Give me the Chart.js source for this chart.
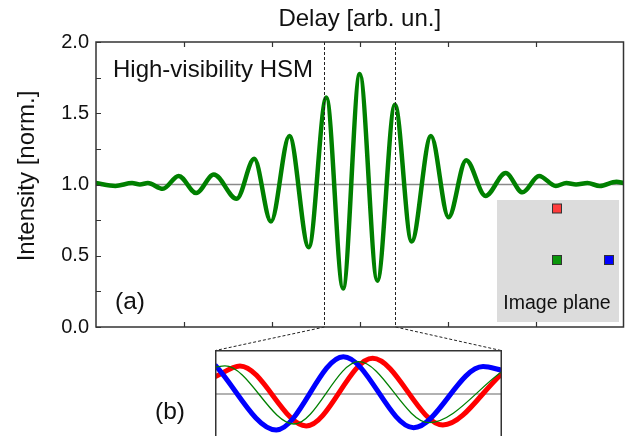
<!DOCTYPE html>
<html><head><meta charset="utf-8">
<script src="https://cdn.jsdelivr.net/npm/chart.js@4.4.0/dist/chart.umd.min.js"></script>
<style>
html,body{margin:0;padding:0;background:#fff;overflow:hidden;width:628px;height:436px;}
#wrap{position:relative;width:628px;height:436px;}
#main{position:absolute;left:0;top:0;}
#inset{position:absolute;}
</style></head><body>
<div id="wrap"><canvas id="main" width="628" height="436"></canvas><canvas id="inset"></canvas></div>
<script>
// ---------- data ----------
const delayX = [0.00,0.22,0.41,0.50,0.59,0.76,0.94,1.14,1.34,1.60,1.80,1.99,2.20,2.42,2.62,2.81,3.00,3.20,3.40,3.59,3.81,4.01,4.21,4.43,4.66,4.85,5.04,5.23,5.35,5.46,5.59,5.73,5.92,6.00];
const intensity = [1.01,0.99,1.01,1.00,1.01,0.97,1.06,0.94,1.07,0.90,1.18,0.74,1.34,0.56,1.61,0.27,1.775,0.325,1.56,0.60,1.34,0.77,1.17,0.92,1.08,0.945,1.06,0.99,1.01,1.00,1.01,0.99,1.02,1.01];
const refLevel = 1.0;
const xTickValues = [0,1,2,3,4,5,6];
const yTickValues = [0,0.25,0.5,0.75,1,1.25,1.5,1.75,2];
const zoomRange = [2.595, 3.40];

const redX   = [2.595,2.665,2.851,3.037,3.234,3.40];
const redY   = [0.52,0.85,-0.97,1.08,-0.94,0.62];
const blueX  = [2.595,2.767,2.955,3.152,3.347,3.40];
const blueY  = [0.88,-1.09,1.13,-1.02,0.83,0.72];
const greenX = [2.595,2.623,2.817,2.998,3.195,3.40];
const greenY = [0.81,0.85,-0.91,0.98,-0.87,0.68];

const titleText = 'Delay [arb. un.]';
const yTitleText = 'Intensity [norm.]';
const annotText = 'High-visibility HSM';
const panelA = '(a)', panelB = '(b)';
const planeText = 'Image plane';

// ---------- layout ----------
const FONT = "'Liberation Sans', Arial, Helvetica, sans-serif";
const INSET = {left:215, top:350, width:287, height:96};
Chart.defaults.font.family = FONT;
Chart.defaults.color = '#111';

const pts = (xs, ys) => xs.map((x,i)=>({x, y: ys[i]}));

const insetCanvas = document.getElementById('inset');
insetCanvas.width = INSET.width; insetCanvas.height = INSET.height;
insetCanvas.style.left = INSET.left + 'px'; insetCanvas.style.top = INSET.top + 'px';

const mainPlugin = {
  id: 'mainDeco',
  beforeDatasetsDraw(chart){
    const {ctx, chartArea:a, scales:{x,y}} = chart;
    ctx.save();
    // image-plane box
    const bx = a.right - 126.5, by = a.bottom - 127, bw = 122, bh = 122;
    ctx.fillStyle = '#dcdcdc';
    ctx.fillRect(bx, by, bw, bh);
    const sq = (cx, cy, col) => {
      ctx.fillStyle = col; ctx.fillRect(cx-4.5, cy-4.5, 9, 9);
      ctx.strokeStyle = '#333'; ctx.lineWidth = 1; ctx.strokeRect(cx-4.5, cy-4.5, 9, 9);
    };
    sq(bx+60, by+8.5, '#ff3c3c');
    sq(bx+60, by+60, '#0a960a');
    sq(bx+112, by+60, '#0000ff');
    ctx.fillStyle = '#111';
    ctx.font = '19.5px ' + FONT;
    ctx.textAlign = 'center'; ctx.textBaseline = 'alphabetic';
    ctx.fillText(planeText, bx + 60, by + 109);
    // reference line
    const yr = y.getPixelForValue(refLevel);
    ctx.strokeStyle = '#8a8a8a'; ctx.lineWidth = 1.5;
    ctx.beginPath(); ctx.moveTo(a.left, yr); ctx.lineTo(a.right, yr); ctx.stroke();
    ctx.restore();
  },
  afterDatasetsDraw(chart){
    const {ctx, chartArea:a, scales:{x,y}} = chart;
    ctx.save();
    // dashed zoom lines
    ctx.strokeStyle = '#222'; ctx.lineWidth = 1; ctx.setLineDash([3,2]);
    const corners = [INSET.left + 0.5, INSET.left + INSET.width - 1];
    zoomRange.forEach((v, i) => {
      const px = Math.round(x.getPixelForValue(v)) + 0.5;
      ctx.beginPath();
      ctx.moveTo(px, a.top); ctx.lineTo(px, a.bottom);
      ctx.lineTo(corners[i], INSET.top + 0.5);
      ctx.stroke();
    });
    ctx.setLineDash([]);
    // frame
    ctx.strokeStyle = '#333'; ctx.lineWidth = 1.5;
    ctx.strokeRect(a.left, a.top, a.right - a.left, a.bottom - a.top);
    // inward ticks
    ctx.lineWidth = 1.2;
    ctx.beginPath();
    xTickValues.slice(1,-1).forEach(v => {
      const px = Math.round(x.getPixelForValue(v)) + 0.5;
      ctx.moveTo(px, a.bottom); ctx.lineTo(px, a.bottom - 5);
      ctx.moveTo(px, a.top); ctx.lineTo(px, a.top + 5);
    });
    yTickValues.forEach(v => {
      const py = Math.round(y.getPixelForValue(v)) + 0.5;
      ctx.moveTo(a.left, py); ctx.lineTo(a.left + 5, py);
    });
    ctx.stroke();
    // annotations
    ctx.fillStyle = '#111';
    ctx.textAlign = 'left'; ctx.textBaseline = 'alphabetic';
    ctx.font = '24px ' + FONT;
    ctx.fillText(annotText, a.left + 17, a.top + 35);
    ctx.font = '24.5px ' + FONT;
    ctx.fillText(panelA, a.left + 19, a.bottom - 18);
    ctx.fillText(panelB, INSET.left - 60, INSET.top + 69);
    // y title
    ctx.font = '24px ' + FONT;
    ctx.textAlign = 'center'; ctx.textBaseline = 'middle';
    ctx.translate(27, 176); ctx.rotate(-Math.PI/2);
    ctx.fillText(yTitleText, 0, 0);
    ctx.restore();
  }
};

new Chart(document.getElementById('main'), {
  type: 'line',
  data: { datasets: [{
    data: pts(delayX, intensity),
    borderColor: 'rgb(0,128,0)', borderWidth: 4.5,
    borderJoinStyle: 'round', borderCapStyle: 'round',
    pointRadius: 0, cubicInterpolationMode: 'monotone', fill: false
  }]},
  options: {
    responsive: false, animation: false, devicePixelRatio: 1,
    layout: { padding: { left: 0, right: 4.5, top: 0, bottom: 109 } },
    plugins: {
      legend: { display: false }, tooltip: { enabled: false },
      title: { display: true, text: titleText, color: '#111', fullSize: false,
               font: { size: 24, weight: 'normal', family: FONT, lineHeight: 1.2 },
               padding: { top: 4.5, bottom: 8.7 } }
    },
    scales: {
      x: { type: 'linear', min: 0, max: 6, display: false },
      y: { min: 0, max: 2,
           ticks: { stepSize: 0.5, padding: 7, color: '#111', font: { size: 20 },
                    callback: v => v.toFixed(1) },
           grid: { display: false, drawTicks: false }, border: { display: false },
           afterFit: s => { s.width = 96; } }
    }
  },
  plugins: [mainPlugin]
});

const insetPlugin = {
  id: 'insetDeco',
  beforeDatasetsDraw(chart){
    const {ctx, chartArea:a, scales:{y}} = chart;
    ctx.save();
    const yr = y.getPixelForValue(0);
    ctx.strokeStyle = '#999'; ctx.lineWidth = 1.5;
    ctx.beginPath(); ctx.moveTo(a.left, yr); ctx.lineTo(a.right, yr); ctx.stroke();
    ctx.restore();
  },
  afterDraw(chart){
    const {ctx, chartArea:a} = chart;
    ctx.save();
    ctx.strokeStyle = '#333'; ctx.lineWidth = 1.5;
    ctx.beginPath();
    ctx.moveTo(a.left + 0.75, a.bottom); ctx.lineTo(a.left + 0.75, a.top + 0.75);
    ctx.lineTo(a.right - 0.75, a.top + 0.75); ctx.lineTo(a.right - 0.75, a.bottom);
    ctx.stroke();
    ctx.restore();
  }
};

new Chart(insetCanvas, {
  type: 'line',
  data: { datasets: [
    { data: pts(greenX, greenY), borderColor: 'rgb(0,128,0)', borderWidth: 1.3, order: 0,
      pointRadius: 0, cubicInterpolationMode: 'monotone', fill: false },
    { data: pts(blueX, blueY), borderColor: 'rgb(0,0,255)', borderWidth: 5, order: 1,
      pointRadius: 0, cubicInterpolationMode: 'monotone', fill: false, borderJoinStyle: 'round' },
    { data: pts(redX, redY), borderColor: 'rgb(255,0,0)', borderWidth: 5, order: 2,
      pointRadius: 0, cubicInterpolationMode: 'monotone', fill: false, borderJoinStyle: 'round' }
  ]},
  options: {
    responsive: false, animation: false, devicePixelRatio: 1,
    layout: { padding: 0 },
    plugins: { legend: { display: false }, tooltip: { enabled: false }, title: { display: false } },
    scales: {
      x: { type: 'linear', min: zoomRange[0], max: zoomRange[1], display: false },
      y: { min: -1.576, max: 1.333, display: false }
    }
  },
  plugins: [insetPlugin]
});
</script>
</body></html>
